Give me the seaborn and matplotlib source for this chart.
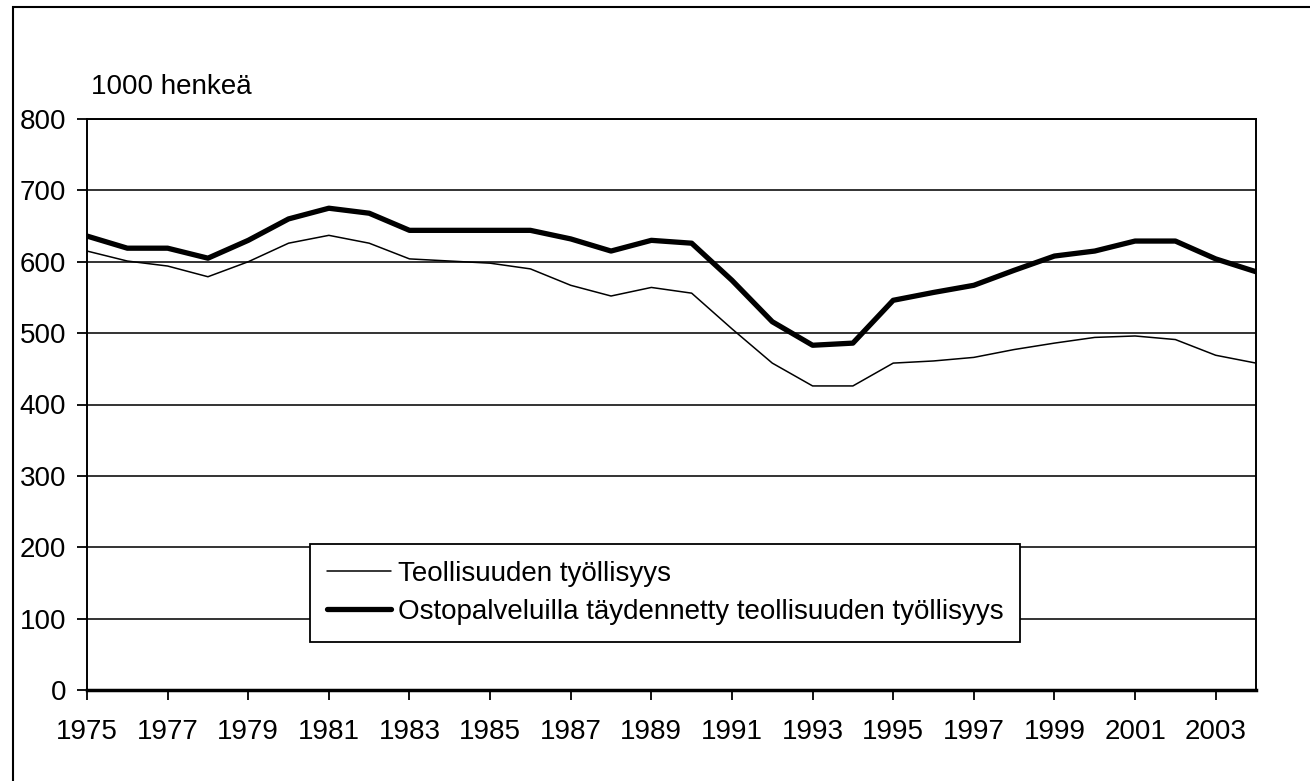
import matplotlib
matplotlib.use("Agg")
import matplotlib.pyplot as plt
import matplotlib.patches as mpatches
import numpy as np
import pandas as pd
import seaborn as sns

years = list(range(1975, 2005))
teollisuus = [615, 601, 594, 579, 600, 626, 637, 626, 604, 601,
              598, 590, 567, 552, 564, 556, 506, 458, 426, 426,
              458, 461, 466, 477, 486, 494, 496, 491, 469, 458]
taydennetty = [636, 619, 619, 605, 630, 660, 675, 668, 644, 644,
               644, 644, 632, 615, 630, 626, 574, 516, 483, 486,
               546, 557, 567, 588, 608, 615, 629, 629, 604, 586]
series_names = ["Teollisuuden työllisyys",
                "Ostopalveluilla täydennetty teollisuuden työllisyys"]
x_ticks = list(range(1975, 2004, 2))
y_ticks = list(range(0, 801, 100))

df = pd.DataFrame({
    "vuosi": years * 2,
    "arvo": teollisuus + taydennetty,
    "sarja": [series_names[0]] * len(years) + [series_names[1]] * len(years),
})

sns.set_style("white")
plt.rcParams["font.family"] = ["Liberation Sans", "DejaVu Sans"]
plt.rcParams["text.color"] = "black"
plt.rcParams["xtick.color"] = "black"
plt.rcParams["ytick.color"] = "black"
FS = 20.0

fig = plt.figure(figsize=(13.1, 7.81), dpi=100)
ax = fig.add_axes([87 / 1310, 1 - 690 / 781, (1256 - 87) / 1310, (690 - 119) / 781])

# outer frame of the figure (runs off the right and bottom edge)
fig.patches.append(mpatches.Rectangle((13 / 1310, -0.1), 1.2, 1 - 7 / 781 + 0.1,
                                      transform=fig.transFigure, fill=False,
                                      edgecolor="black", linewidth=1.5, zorder=0))

for y in y_ticks[1:]:
    ax.axhline(y, color="#111111", linewidth=1.2, zorder=1)

sns.lineplot(data=df, x="vuosi", y="arvo", hue="sarja", size="sarja",
             sizes={series_names[0]: 1.1, series_names[1]: 3.8},
             palette={series_names[0]: "black", series_names[1]: "black"},
             ax=ax, zorder=3)

ax.set_xlim(1975, 2004)
ax.set_ylim(0, 800)
ax.set_xticks(x_ticks)
ax.set_yticks(y_ticks)
ax.set_xlabel("")
ax.set_ylabel("")
ax.tick_params(axis="both", direction="out", length=7, width=1.3,
               colors="black", labelsize=FS, bottom=True, left=True)
ax.tick_params(axis="x", pad=14)
ax.tick_params(axis="y", pad=8)
for side in ["left", "top", "right"]:
    ax.spines[side].set_color("black")
    ax.spines[side].set_linewidth(1.4)
ax.spines["bottom"].set_color("black")
ax.spines["bottom"].set_linewidth(2.5)

fig.text(91 / 1310, 1 - 87 / 781, "1000 henkeä", fontsize=FS, ha="left", va="center",
         color="black")

leg = ax.legend(loc="upper left", bbox_to_anchor=((310 - 87) / 1169, (690 - 544) / 571),
                borderaxespad=0, fontsize=FS, frameon=True, fancybox=False,
                handlelength=2.3, handletextpad=0.25, labelspacing=0.45,
                borderpad=0.6, edgecolor="black", framealpha=1, labelcolor="black")
leg.get_frame().set_linewidth(1.3)

fig.savefig("out.png", dpi=100)
